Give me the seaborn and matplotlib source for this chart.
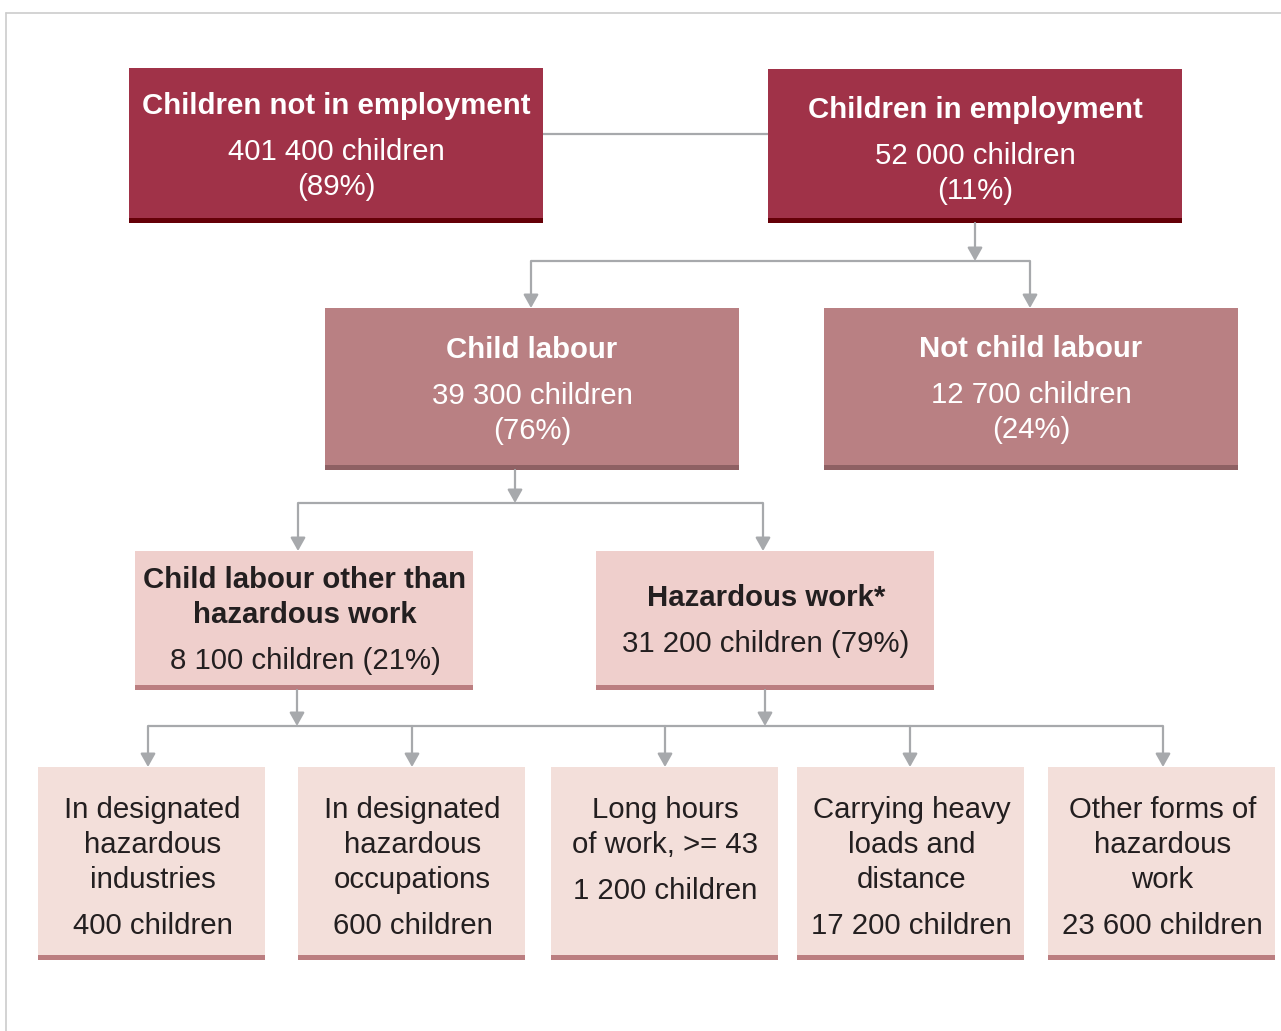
import matplotlib
matplotlib.use("Agg")
import matplotlib.pyplot as plt
import seaborn as sns

# Categories, counts and shares
top_names = ["Children not in employment", "Children in employment"]
top_counts = [401400, 52000]
top_shares = [89, 11]

mid_names = ["Child labour", "Not child labour"]
mid_counts = [39300, 12700]
mid_shares = [76, 24]

cl_names = ["Child labour other than\nhazardous work", "Hazardous work*"]
cl_counts = [8100, 31200]
cl_shares = [21, 79]

haz_names = ["In designated\nhazardous\nindustries", "In designated\nhazardous\noccupations",
             "Long hours\nof work, >= 43", "Carrying heavy\nloads and\ndistance",
             "Other forms of\nhazardous\nwork"]
haz_counts = [400, 600, 1200, 17200, 23600]


def fmt(n):
    return f"{n:,}".replace(",", " ") + " children"


sns.set_theme(style="white")
plt.rcParams["font.family"] = ["Liberation Sans", "DejaVu Sans"]

fig = plt.figure(figsize=(12.81, 10.31), dpi=100)
ax = fig.add_axes([0, 0, 1, 1])
ax.set_xlim(0, 1281)
ax.set_ylim(1031, 0)
ax.axis("off")

grey = "#A7A9AC"
dark_fill, dark_edge = "#A03248", "#650007"
mid_fill, mid_edge = "#B98083", "#8E6063"
pale_fill, pale_edge = "#EFCFCC", "#BB7E80"
light_fill, light_edge = "#F3DFDA", "#BB7E80"
ink = "#231F20"
FS = 21.2
GAP = 35
DY = 3  # va="center" sits a little high compared with the reference

# outer frame (top and left only)
ax.plot([6, 1281], [13, 13], color="#CCCCCC", lw=1.2)
ax.plot([6, 6], [13, 1031], color="#CCCCCC", lw=1.2)


def box(x0, x1, y0, y1, fill, edge, stripe=5):
    ax.bar((x0 + x1) / 2, y1 - y0, width=x1 - x0, bottom=y0, color=fill, linewidth=0)
    ax.bar((x0 + x1) / 2, stripe, width=x1 - x0, bottom=y1 - stripe, color=edge, linewidth=0)


def line(xs, ys):
    ax.plot(xs, ys, color=grey, lw=1.6, solid_capstyle="butt", zorder=1)


def arrow(x, y0, y1):
    ax.annotate("", xy=(x, y1), xytext=(x, y0),
                arrowprops=dict(arrowstyle="-|>,head_width=0.45,head_length=0.8",
                                color=grey, lw=1.6, mutation_scale=10, shrinkA=0, shrinkB=0),
                zorder=2)


def txt(x, y, s, color, bold=False):
    # one call per line so the spacing matches the reference
    for i, part in enumerate(s.split("\n")):
        ax.text(x, y + DY + i * GAP, part, ha="center", va="center", color=color, fontsize=FS,
                fontweight="bold" if bold else "normal")


# --- level 1
top_boxes = [(129, 543, 68, 223), (768, 1182, 69, 223)]
top_y = [(103, 149, 184), (107, 153, 188)]
for (x0, x1, y0, y1), nm, c, s, (ya, yb, yc) in zip(top_boxes, top_names, top_counts, top_shares, top_y):
    box(x0, x1, y0, y1, dark_fill, dark_edge)
    cx = (x0 + x1) / 2
    txt(cx, ya, nm, "white", bold=True)
    txt(cx, yb, fmt(c), "white")
    txt(cx, yc, f"({s}%)", "white")
line([543, 768], [134, 134])

# --- level 2
arrow(975, 223, 261)
line([531, 1030], [261, 261])
arrow(531, 261, 308)
arrow(1030, 261, 308)
mid_boxes = [(325, 739, 308, 470), (824, 1238, 308, 470)]
mid_y = [(347, 393, 428), (346, 392, 427)]
for (x0, x1, y0, y1), nm, c, s, (ya, yb, yc) in zip(mid_boxes, mid_names, mid_counts, mid_shares, mid_y):
    box(x0, x1, y0, y1, mid_fill, mid_edge)
    cx = (x0 + x1) / 2
    txt(cx, ya, nm, "white", bold=True)
    txt(cx, yb, fmt(c), "white")
    txt(cx, yc, f"({s}%)", "white")

# --- level 3
arrow(515, 470, 503)
line([298, 763], [503, 503])
arrow(298, 503, 551)
arrow(763, 503, 551)
cl_boxes = [(135, 473, 551, 690), (596, 934, 551, 690)]
cl_title_y = [577, 595]
cl_count_y = [658, 641]
for (x0, x1, y0, y1), nm, c, s, ya, yb in zip(cl_boxes, cl_names, cl_counts, cl_shares, cl_title_y, cl_count_y):
    box(x0, x1, y0, y1, pale_fill, pale_edge)
    cx = (x0 + x1) / 2 + 1
    txt(cx, ya, nm, ink, bold=True)
    txt(cx, yb, f"{fmt(c)} ({s}%)", ink)

# --- level 4
arrow(297, 690, 726)
arrow(765, 690, 726)
line([148, 1163], [726, 726])
haz_boxes = [(38, 265), (298, 525), (551, 778), (797, 1024), (1048, 1275)]
haz_arrow_x = [148, 412, 665, 910, 1163]
for (x0, x1), ax_x, nm, c in zip(haz_boxes, haz_arrow_x, haz_names, haz_counts):
    arrow(ax_x, 726, 767)
    box(x0, x1, 767, 960, light_fill, light_edge)
    cx = (x0 + x1) / 2 + 1
    nlines = nm.count("\n") + 1
    txt(cx, 807, nm, ink)
    txt(cx, 807 + nlines * GAP + 11, fmt(c), ink)

fig.savefig("out.png", dpi=100)
